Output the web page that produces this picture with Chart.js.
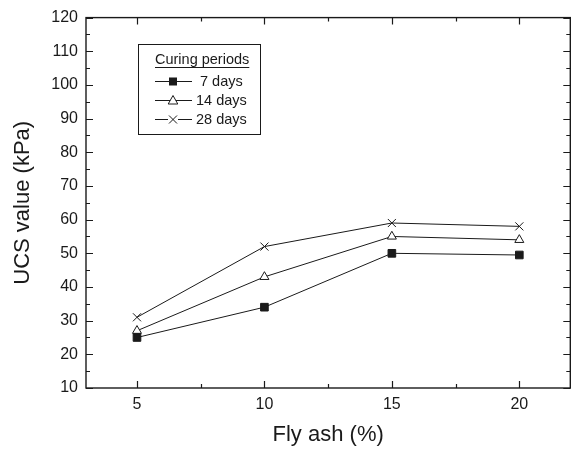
<!DOCTYPE html>
<html>
<head>
<meta charset="utf-8">
<script src="https://cdn.jsdelivr.net/npm/chart.js"></script>
<style>
  html, body { margin: 0; padding: 0; background: #fff; }
  #wrap { width: 577px; height: 449px; }
</style>
</head>
<body>
<div id="wrap"><canvas id="ucsChart" width="577" height="449"></canvas></div>
<script>
const flyAsh = [5, 10, 15, 20];
const days7 = [25, 34, 50, 49.5];
const days14 = [27, 43, 55, 54];
const days28 = [31, 52, 59, 58];
const seriesLabels = ["7 days", "14 days", "28 days"];
const xTicks = [5, 10, 15, 20];
const xMinorTicks = [7.5, 12.5, 17.5];
const yTicks = [10, 20, 30, 40, 50, 60, 70, 80, 90, 100, 110, 120];
const yMinorTicks = [15, 25, 35, 45, 55, 65, 75, 85, 95, 105, 115];

const ink = "#1a1a1a";
const font = "'Liberation Sans', Arial, Helvetica, sans-serif";

const toPoints = (vals) => flyAsh.map((x, i) => ({ x, y: vals[i] }));

// frame with inward ticks on all four sides
const framePlugin = {
  id: "frame",
  afterDatasetsDraw(chart) {
    const { ctx, chartArea: a, scales: { x, y } } = chart;
    ctx.save();
    ctx.strokeStyle = ink;
    ctx.lineWidth = 1.4;
    ctx.strokeRect(a.left, a.top, a.right - a.left, a.bottom - a.top);
    ctx.lineWidth = 1.2;
    const tick = (vals, len, horiz) => {
      vals.forEach((v) => {
        ctx.beginPath();
        if (horiz) {
          const px = Math.round(x.getPixelForValue(v)) + 0.5;
          ctx.moveTo(px, a.bottom); ctx.lineTo(px, a.bottom - len);
          ctx.moveTo(px, a.top); ctx.lineTo(px, a.top + len);
        } else {
          const py = Math.round(y.getPixelForValue(v)) + 0.5;
          ctx.moveTo(a.left, py); ctx.lineTo(a.left + len, py);
          ctx.moveTo(a.right, py); ctx.lineTo(a.right - len, py);
        }
        ctx.stroke();
      });
    };
    tick(xTicks, 7, true);
    tick(xMinorTicks, 4, true);
    tick(yTicks, 7, false);
    tick(yMinorTicks, 4, false);
    ctx.restore();
  }
};

// boxed legend in the upper left of the plot
const legendPlugin = {
  id: "boxLegend",
  afterDraw(chart) {
    const { ctx } = chart;
    const bx = 138.5, by = 44.5, bw = 122, bh = 90;
    ctx.save();
    ctx.strokeStyle = ink;
    ctx.lineWidth = 1;
    ctx.strokeRect(bx, by, bw, bh);
    ctx.fillStyle = ink;
    ctx.font = "14.5px " + font;
    ctx.textBaseline = "alphabetic";
    ctx.textAlign = "left";
    const title = "Curing periods";
    const tw = ctx.measureText(title).width;
    const tx = 155;
    ctx.fillText(title, tx, 64);
    ctx.lineWidth = 1.2;
    ctx.beginPath();
    ctx.moveTo(tx, 67.5); ctx.lineTo(tx + tw, 67.5);
    ctx.stroke();
    const rows = [81.5, 100.5, 119.5];
    const styles = ["square", "triangle", "cross"];
    rows.forEach((ry, i) => {
      ctx.lineWidth = 1;
      ctx.beginPath();
      ctx.moveTo(155, ry); ctx.lineTo(192, ry);
      ctx.stroke();
      const cx = 173;
      if (styles[i] === "square") {
        ctx.fillStyle = ink;
        ctx.fillRect(cx - 4, ry - 4, 8, 8);
      } else if (styles[i] === "triangle") {
        ctx.fillStyle = "#fff";
        ctx.beginPath();
        ctx.moveTo(cx, ry - 5); ctx.lineTo(cx + 4.8, ry + 3.5); ctx.lineTo(cx - 4.8, ry + 3.5);
        ctx.closePath();
        ctx.fill(); ctx.stroke();
      } else {
        ctx.fillStyle = "#fff";
        ctx.fillRect(cx - 5, ry - 5, 10, 10);
        ctx.beginPath();
        ctx.moveTo(cx - 4, ry - 4); ctx.lineTo(cx + 4, ry + 4);
        ctx.moveTo(cx + 4, ry - 4); ctx.lineTo(cx - 4, ry + 4);
        ctx.stroke();
      }
      ctx.fillStyle = ink;
      ctx.textBaseline = "middle";
      ctx.textAlign = "left";
      // single-digit label is padded by one figure space, like the original
      const lx = seriesLabels[i].length < 7 ? 200 : 196;
      ctx.fillText(seriesLabels[i], lx, ry);
    });
    ctx.restore();
  }
};

const lineStyle = {
  borderColor: ink,
  borderWidth: 1,
  pointRadius: 5.5,
  pointHoverRadius: 5.5,
  pointBorderColor: ink,
  pointBorderWidth: 1,
  tension: 0
};

new Chart(document.getElementById("ucsChart"), {
  type: "line",
  data: {
    datasets: [
      { ...lineStyle, label: seriesLabels[0], data: toPoints(days7), pointStyle: "rect", pointBackgroundColor: ink, pointRadius: 5.4 },
      { ...lineStyle, label: seriesLabels[1], data: toPoints(days14), pointStyle: "triangle", pointBackgroundColor: "#fff", pointRadius: 5.2 },
      { ...lineStyle, label: seriesLabels[2], data: toPoints(days28), pointStyle: "crossRot", pointBackgroundColor: "#fff", pointRadius: 5.7 }
    ]
  },
  options: {
    responsive: false,
    animation: false,
    layout: { padding: { top: 14, right: 6, left: 0, bottom: 0 } },
    plugins: { legend: { display: false }, tooltip: { enabled: false } },
    scales: {
      x: {
        type: "linear",
        min: 3,
        max: 22,
        afterBuildTicks: (s) => { s.ticks = xTicks.map((v) => ({ value: v })); },
        afterFit: (s) => { s.height = 61; },
        grid: { display: false, drawTicks: false },
        border: { display: false },
        ticks: { color: ink, padding: 7, font: { family: font, size: 16 } },
        title: {
          display: true,
          text: "Fly ash (%)",
          color: ink,
          font: { family: font, size: 22 },
          padding: { top: 0, bottom: 1 }
        }
      },
      y: {
        min: 10,
        max: 120,
        afterBuildTicks: (s) => { s.ticks = yTicks.map((v) => ({ value: v })); },
        afterFit: (s) => { s.width = 86; },
        grid: { display: false, drawTicks: false },
        border: { display: false },
        ticks: { color: ink, padding: 8, font: { family: font, size: 16 } },
        title: {
          display: true,
          text: "UCS value (kPa)",
          color: ink,
          font: { family: font, size: 22 },
          padding: { top: 10, bottom: 0 }
        }
      }
    }
  },
  plugins: [framePlugin, legendPlugin]
});
</script>
</body>
</html>
